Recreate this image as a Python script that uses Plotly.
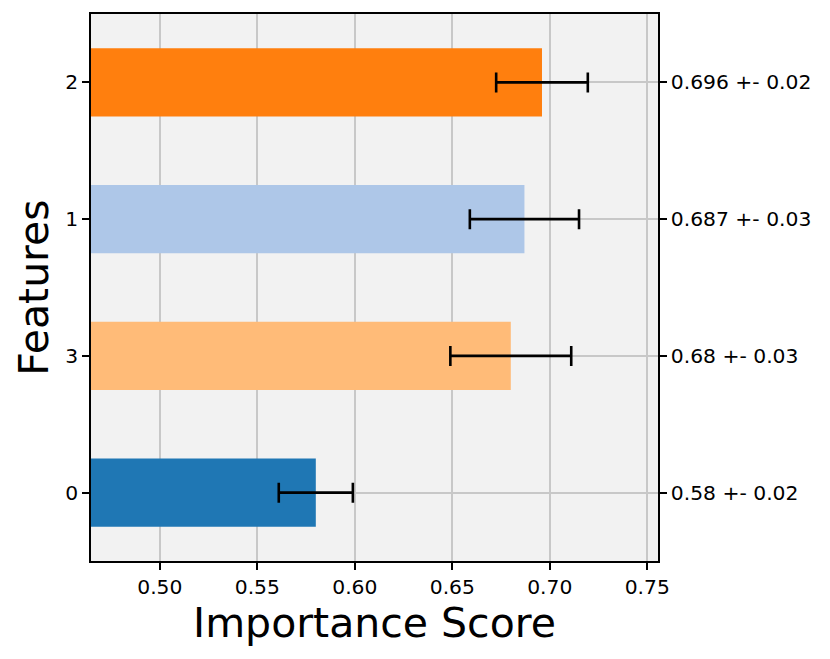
import plotly.graph_objects as go

features = ["0", "3", "1", "2"]
importances = [0.580, 0.680, 0.687, 0.696]
errors = [0.019, 0.031, 0.028, 0.0235]
colors = ["#1f77b4", "#ffbb78", "#aec7e8", "#ff7f0e"]
right_labels = [f"{v:g} +- {e:.2f}" for v, e in zip(importances, errors)]
x_ticks = [0.50, 0.55, 0.60, 0.65, 0.70, 0.75]

FONT = "DejaVu Sans"

fig = go.Figure()
fig.add_trace(go.Bar(
    x=importances, y=features, orientation="h",
    marker=dict(color=colors, line=dict(width=0)),
    width=0.5,
    error_x=dict(type="data", array=errors, color="black", thickness=2.6, width=10),
    showlegend=False,
))
# invisible trace to anchor the right-hand axis
fig.add_trace(go.Scatter(
    x=importances, y=features, yaxis="y2", mode="markers",
    marker=dict(opacity=0), showlegend=False, hoverinfo="skip",
))

axis_common = dict(showline=True, linecolor="black", linewidth=1.6,
                   ticks="outside", ticklen=7, tickwidth=1.6, tickcolor="black",
                   automargin=False,
                   tickfont=dict(family=FONT, size=20.3, color="black"))

fig.update_layout(
    width=830, height=659,
    margin=dict(l=91, r=172, t=14, b=98),
    paper_bgcolor="white", plot_bgcolor="#f2f2f2",
    font=dict(family=FONT, color="black"),
    bargap=0.5,
    xaxis=dict(range=[0.4647, 0.7555], tickvals=x_ticks, tickformat=".2f",
               showgrid=True, gridcolor="#c8c8c8", gridwidth=1.5, zeroline=False,
               title=dict(text="Importance Score", font=dict(family=FONT, size=41), standoff=5),
               mirror=True, **axis_common),
    yaxis=dict(type="category", categoryorder="array", categoryarray=features,
               range=[-0.5, 3.5], showgrid=True, gridcolor="#c8c8c8", gridwidth=1.5,
               title=dict(text="Features", font=dict(family=FONT, size=41), standoff=4),
               mirror=True, **axis_common),
    yaxis2=dict(type="category", categoryorder="array", categoryarray=features,
                range=[-0.5, 3.5], overlaying="y", side="right",
                tickvals=features, ticktext=right_labels, showgrid=False,
                **axis_common),
)

fig.write_html("out.html", config={"displayModeBar": False},
               post_script="document.body.style.margin='0';")
